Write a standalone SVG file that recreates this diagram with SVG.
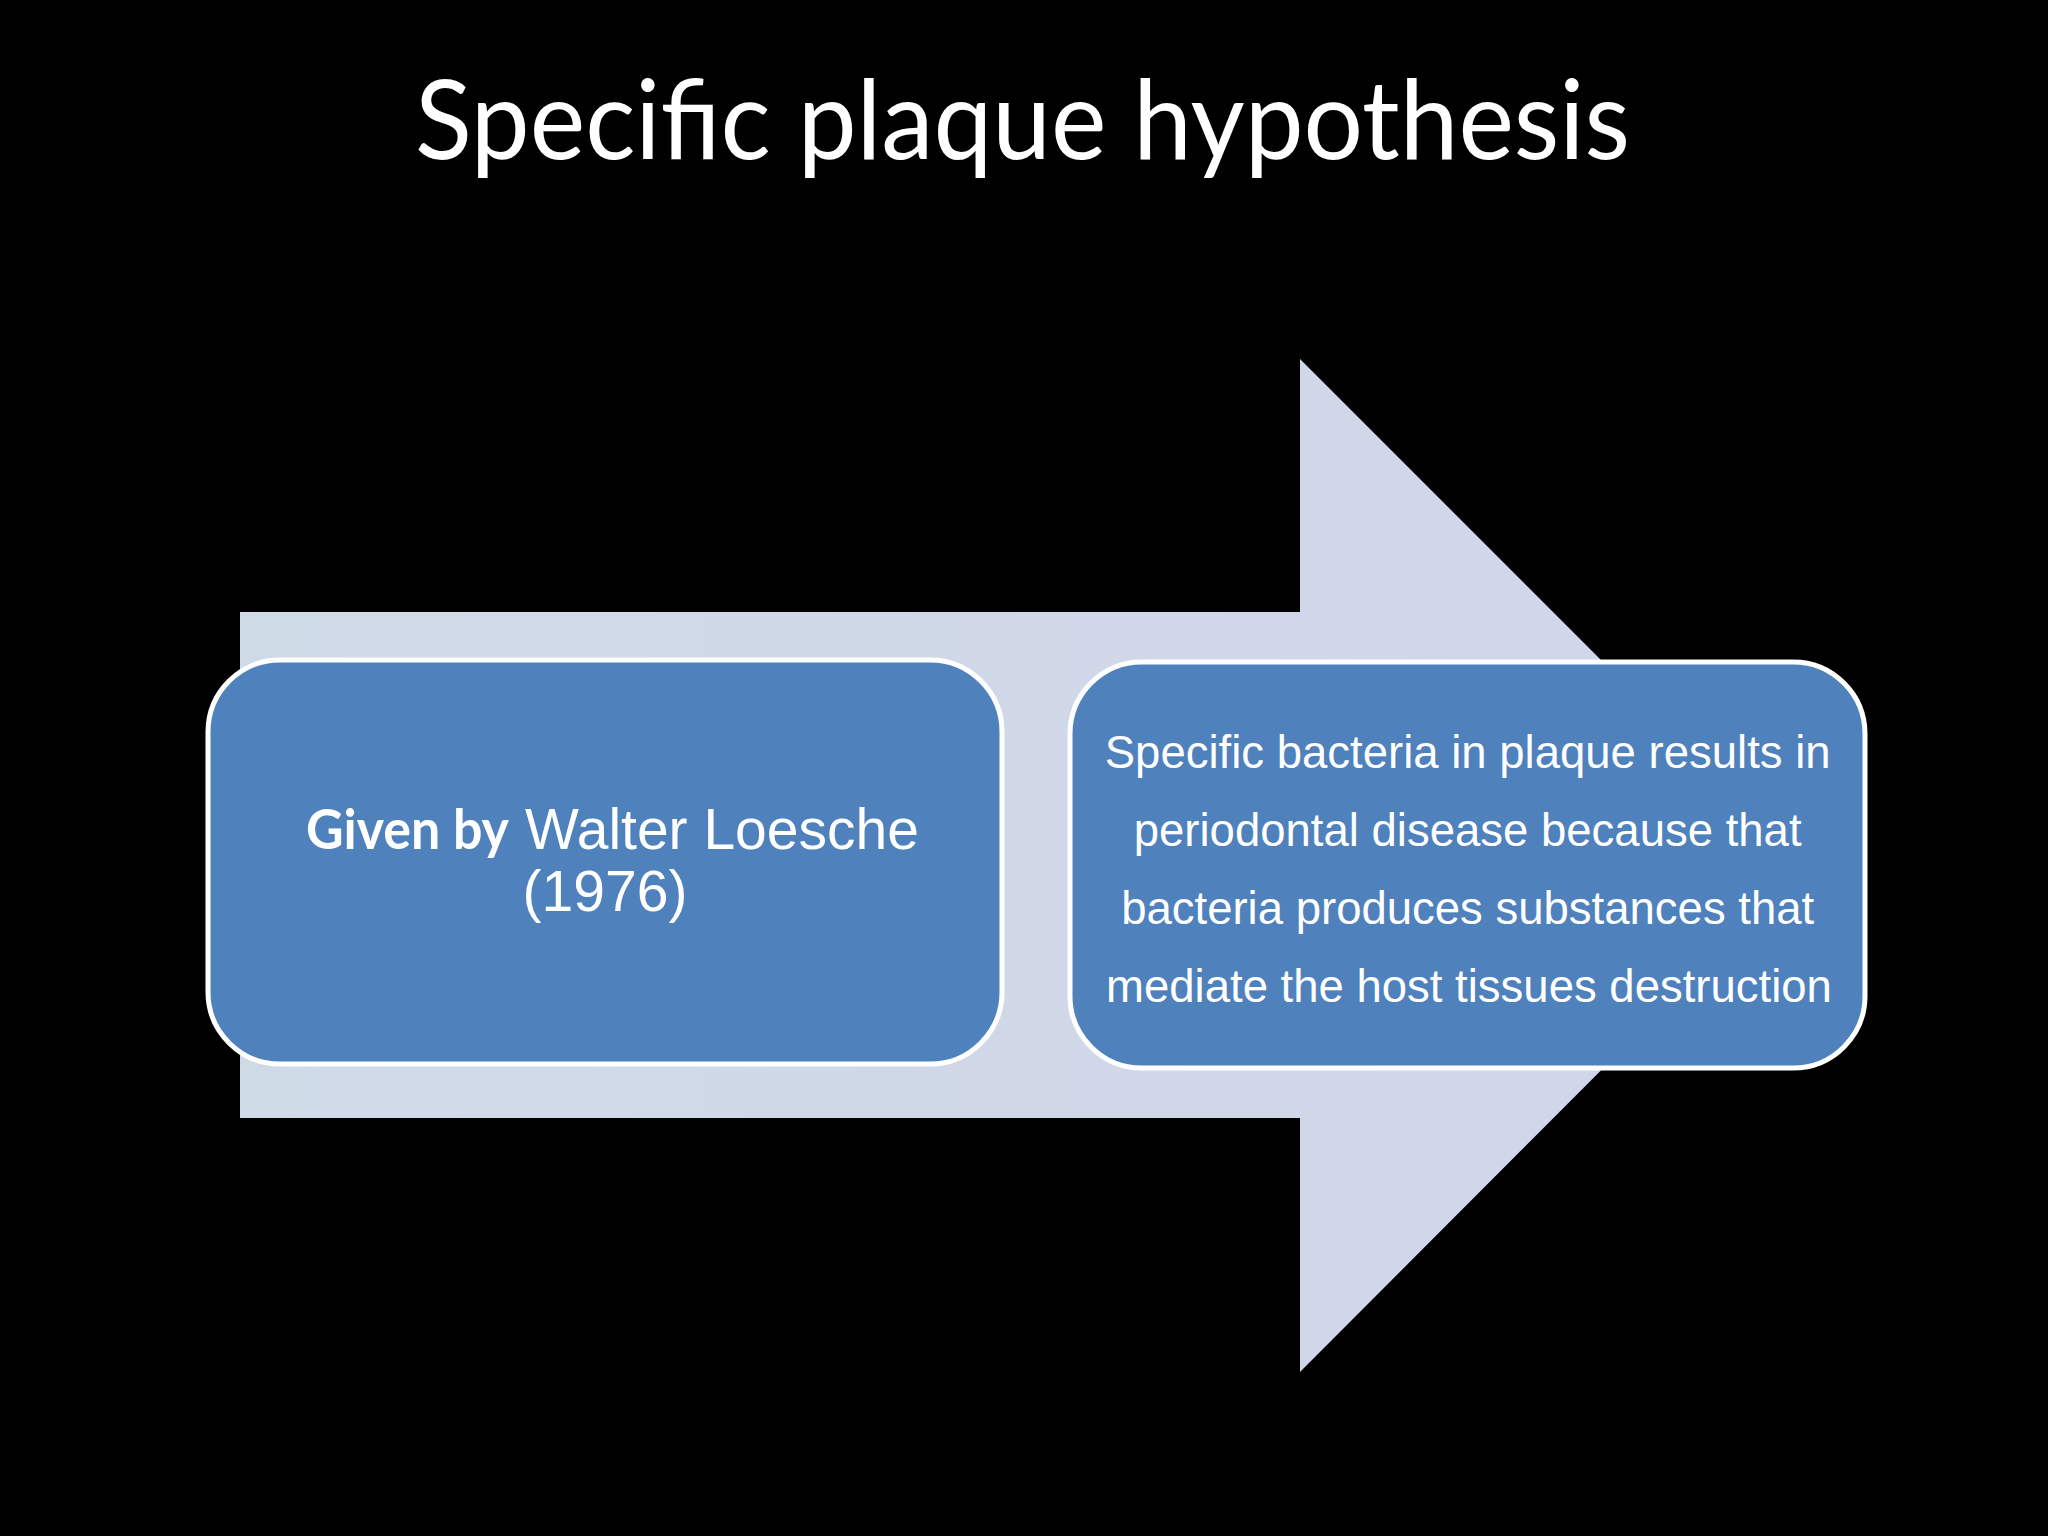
<svg xmlns="http://www.w3.org/2000/svg" width="2048" height="1536" viewBox="0 0 2048 1536">
  <defs>
    <linearGradient id="arrowFill" x1="0" y1="0" x2="1" y2="0">
      <stop offset="0" stop-color="#CFDAE7"/>
      <stop offset="1" stop-color="#D1D6EA"/>
    </linearGradient>
    <style>
      .title { font-family: "Lato", "Open Sans", sans-serif; font-size: 110px; fill: #FFFFFF; }
      .box { fill: #4F81BD; stroke: #FFFFFF; stroke-width: 5; }
      .txt { font-family: "Liberation Sans", Arial, sans-serif; fill: #FFFFFF; }
      .bold { font-family: "Lato", "Open Sans", sans-serif; font-weight: bold; fill: #FFFFFF; }
    </style>
  </defs>
  <rect x="0" y="0" width="2048" height="1536" fill="#000000"/>

  <g id="title">
    <text class="title" x="415" y="159" textLength="1215" lengthAdjust="spacingAndGlyphs">Specific plaque hypothesis</text>
  </g>

  <g id="arrow-background">
    <polygon points="240,612 1300,612 1300,359 1806,865 1300,1372 1300,1118 240,1118" fill="url(#arrowFill)"/>
  </g>

  <g id="connectors"/>

  <g id="node-left">
    <rect class="box" x="208" y="660" width="794" height="404" rx="72" ry="72"/>
    <text class="bold" x="306" y="849" font-size="56" textLength="203" lengthAdjust="spacingAndGlyphs">Given by</text>
    <text class="txt" x="525" y="849" font-size="57">Walter Loesche</text>
    <text class="txt" x="605" y="911" font-size="57" text-anchor="middle">(1976)</text>
  </g>

  <g id="node-right">
    <rect class="box" x="1070" y="662" width="795" height="406" rx="72" ry="72"/>
    <text class="txt" font-size="45.5" text-anchor="middle">
      <tspan x="1474" y="768">Specific bacteria in plaque results in</tspan>
      <tspan x="1474" y="846">periodontal disease because that</tspan>
      <tspan x="1474" y="924">bacteria produces substances that</tspan>
      <tspan x="1469" y="1002">mediate the host tissues destruction</tspan>
    </text>
  </g>
</svg>
